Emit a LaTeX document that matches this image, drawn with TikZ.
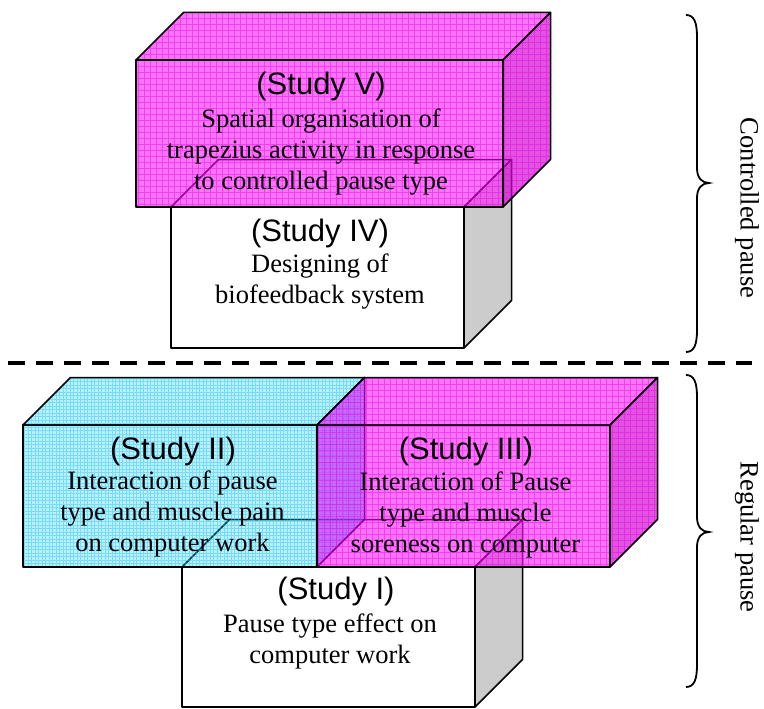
\documentclass[tikz,border=0pt]{standalone}
\usepackage{fontspec}
\setmainfont{Liberation Serif}
\newfontfamily\arialf{Liberation Sans}
\definecolor{magfill}{RGB}{255,0,255}
\definecolor{maggrid}{RGB}{225,0,225}
\definecolor{magside}{RGB}{215,0,215}
\definecolor{cyanfill}{RGB}{0,205,255}
\definecolor{cyangrid}{RGB}{20,185,235}
\definecolor{sidegray}{RGB}{204,204,204}
\newcommand{\face}[3]{%
  \begin{scope}
    \clip #3;
    \fill[#1] #3;
    \draw[#2] (0,0) grid (764,709);
  \end{scope}
  \draw[edge] #3;
}
\newcommand{\cub}[8]{% x1 y1 x2 y2, front/top fill, grid, side fill, grid
  \face{#5}{#6}{(#1,#2) rectangle (#3,#4)}
  \face{#5}{#6}{(#1,#2) -- ++(47.5,-47.5) -- ++(#3-#1,0) -- (#3,#2) -- cycle}
  \face{#7}{#8}{(#3,#2) -- ++(47.5,-47.5) -- ++(0,#4-#2) -- (#3,#4) -- cycle}
}
\tikzset{
  edge/.style={draw=black, line width=1.5pt, line join=round},
  nogrid/.style={draw=none},
  whitefill/.style={fill=white},
  grayfill/.style={fill=sidegray},
  magfront/.style={fill=magfill, fill opacity=0.55},
  magsidefill/.style={fill=magside, fill opacity=0.68},
  maggridst/.style={step=6pt, draw=maggrid, line width=0.5pt, draw opacity=0.45},
  cyanfront/.style={fill=cyanfill, fill opacity=0.27},
  cyansidefill/.style={fill=cyanfill, fill opacity=0.42},
  cyangridst/.style={step=3.5pt, draw=cyangrid, line width=0.4pt, draw opacity=0.4},
  title/.style={font=\arialf\fontsize{31}{34}\selectfont, inner sep=0pt},
  body/.style={font=\fontsize{26.5}{31}\selectfont, align=center, inner sep=0pt},
  brace/.style={draw=black, line width=1.8pt},
  side/.style={font=\fontsize{26.5}{31}\selectfont, rotate=-90, inner sep=0pt}
}
\begin{document}
\begin{tikzpicture}[x=1pt,y=-1pt]
\useasboundingbox (0,0) rectangle (764,709);
% top group
\cub{171}{207}{464}{348}{whitefill}{nogrid}{grayfill}{nogrid}
\cub{136}{60}{503}{207}{magfront}{maggridst}{magsidefill}{maggridst}
% bottom group
\cub{182}{567}{475}{707}{whitefill}{nogrid}{grayfill}{nogrid}
\cub{23}{425}{317}{567}{cyanfront}{cyangridst}{cyansidefill}{cyangridst}
\cub{317}{425}{610}{567}{magfront}{maggridst}{magsidefill}{maggridst}
% texts
\node[title] (t5) at (321,86) {(Study V)};
\node[body] (b5) at (321,152) {Spatial organisation of\\trapezius activity in response\\to controlled pause type};
\node[title] (t4) at (320,233) {(Study IV)};
\node[body] (b4) at (320,282) {Designing of\\biofeedback system};
\node[title] (t2) at (173,451) {(Study II)};
\node[body] (b2) at (172.5,514) {Interaction of pause\\type and muscle pain\\on computer work};
\node[title] (t3) at (466,451) {(Study III)};
\node[body] (b3) at (465.5,515) {Interaction of Pause\\type and muscle\\soreness on computer};
\node[title] (t1) at (336,591) {(Study I)};
\node[body] (b1) at (330,641) {Pause type effect on\\computer work};
% divider
\coordinate (dl) at (8,363);
\coordinate (dr) at (752,363);
\draw[line width=4pt, dash pattern=on 17pt off 11pt] (dl) -- (dr);
% braces
\draw[brace] (686,15) .. controls (694,15) and (697,22) .. (697,37) -- (697,168)
  .. controls (697,178) and (702,183) .. (709,183)
  .. controls (702,183) and (697,188) .. (697,198) -- (697,330)
  .. controls (697,345) and (694,352) .. (686,352);
\draw[brace] (686,375) .. controls (694,375) and (697,382) .. (697,397) -- (697,517)
  .. controls (697,527) and (702,532) .. (709,532)
  .. controls (702,532) and (697,537) .. (697,547) -- (697,665)
  .. controls (697,680) and (694,687) .. (686,687);
\node[side] (lc) at (747,208) {Controlled pause};
\node[side] (lr) at (747,537) {Regular pause};
\end{tikzpicture}
\end{document}
